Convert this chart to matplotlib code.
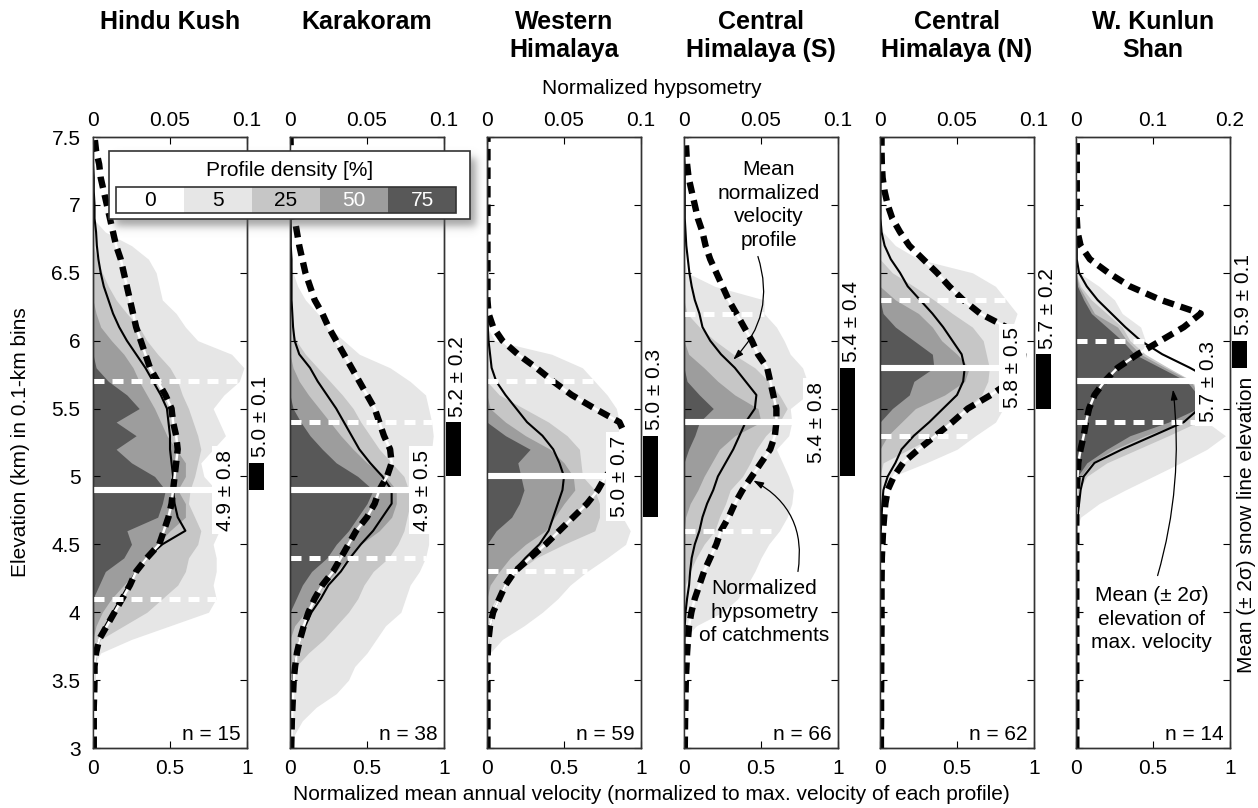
import numpy as np
import matplotlib
matplotlib.use("Agg")
import matplotlib.pyplot as plt
from matplotlib.patches import Rectangle

plt.rcParams['font.family'] = ['Liberation Sans', 'DejaVu Sans']

# elevation bins, 0.1 km, from 3.0 to 7.5 km
elev = np.round(np.arange(3.0, 7.55, 0.1), 1)

titles = ["Hindu Kush", "Karakoram", "Western\nHimalaya", "Central\nHimalaya (S)",
          "Central\nHimalaya (N)", "W. Kunlun\nShan"]
n_profiles = [15, 38, 59, 66, 62, 14]
hyps_max = [0.1, 0.1, 0.1, 0.1, 0.1, 0.2]
hyps_ticklabels = [["0", "0.05", "0.1"]] * 5 + [["0", "0.1", "0.2"]]
vel_ticklabels = ["0", "0.5", "1"]
elev_ticklabels = ["3", "3.5", "4", "4.5", "5", "5.5", "6", "6.5", "7", "7.5"]

# elevation of max. velocity: mean and 2 sigma (km)
vmax_mean = [4.9, 4.9, 5.0, 5.4, 5.8, 5.7]
vmax_2sd = [0.8, 0.5, 0.7, 0.8, 0.5, 0.3]
# snow line elevation: mean and 2 sigma (km)
snow_mean = [5.0, 5.2, 5.0, 5.4, 5.7, 5.9]
snow_2sd = [0.1, 0.2, 0.3, 0.4, 0.2, 0.1]

# --- Hindu Kush ---
hk_vel = [0, 0, 0, 0, .005, .01, .01, .02, .04, .08, .13, .18, .23, .28, .35,
          .45, .6, .55, .53, .52, .52, .51, .5, .5, .49, .48, .44, .39, .34, .28,
          .22, .17, .13, .1, .07, .05, .035, .025, .02, .01, .01, .005, .005, 0, 0, 0]
hk_hyps = [.0005, .0005, .0005, .0005, .0008, .001, .001, .002, .004, .009,
           .014, .019, .024, .028, .035, .043, .046, .049, .051, .052,
           .053, .054, .055, .054, .052, .051, .047, .042, .037, .034,
           .031, .028, .026, .024, .022, .02, .018, .015, .013, .011,
           .009, .007, .005, .004, .002, .001]
hk_p5 = [0, 0, 0, 0, 0, 0, 0, .05, .25, .5, .75, .8, .78, .8, .8,
         .78, .82, .8, .82, .8, .72, .7, .78, .86, .82, .78, .85, .95, .98, .9,
         .68, .6, .54, .45, .43, .41, .36, .25, .08, 0, 0, 0, 0, 0, 0, 0]
hk_p25 = [0, 0, 0, 0, 0, 0, 0, 0, .05, .2, .35, .45, .55, .6, .62,
          .68, .7, .66, .62, .63, .66, .68, .7, .68, .65, .62, .58, .55, .5, .42,
          .35, .3, .22, .15, .1, .06, .03, 0, 0, 0, 0, 0, 0, 0, 0, 0]
hk_p50 = [0, 0, 0, 0, 0, 0, 0, 0, 0, .02, .06, .12, .2, .28, .34,
          .42, .5, .6, .6, .55, .6, .6, .54, .48, .44, .4, .35, .3, .26, .2,
          .12, .05, .02, 0, 0, 0, 0, 0, 0, 0, 0, 0, 0, 0, 0, 0]
hk_p75 = [0, 0, 0, 0, 0, 0, 0, 0, 0, 0, 0, 0, .04, .08, .2,
          .25, .22, .42, .45, .47, .4, .25, .15, .28, .15, .3, .22, .1, .02, 0,
          0, 0, 0, 0, 0, 0, 0, 0, 0, 0, 0, 0, 0, 0, 0, 0]

# --- Karakoram ---
kk_vel = [0, .003, .005, .01, .015, .02, .03, .045, .065, .1, .14, .2, .25, .33, .39,
          .46, .54, .6, .66, .66, .6, .52, .45, .4, .35, .3, .24, .18, .13, .06,
          .03, .02, .015, .01, .01, .01, .01, .005, .005, .005, .005, .005, .005, .005, .005, .005]
kk_hyps = [.0008, .001, .0012, .0016, .002, .0024, .0033, .0045, .0065, .009,
           .012, .016, .021, .028, .033, .038, .043, .05, .055, .058,
           .063, .066, .065, .061, .058, .055, .05, .045, .04, .035,
           .03, .025, .021, .016, .013, .01, .008, .006, .0045, .003,
           .002, .0015, .001, .0008, .0005, .0003]
kk_p5 = [0, .03, .08, .17, .3, .38, .42, .5, .56, .62, .72, .75, .78, .84, .88,
         .9, .9, .92, .9, .91, .92, .91, .92, .93, .92, .9, .88, .78, .65, .45,
         .35, .25, .18, .1, .05, .02, 0, 0, 0, 0, 0, 0, 0, 0, 0, 0]
kk_p25 = [0, 0, 0, 0, 0, 0, .04, .12, .22, .3, .38, .44, .48, .54, .64,
          .7, .74, .76, .78, .77, .74, .66, .58, .52, .46, .41, .34, .26, .18, .1,
          .04, .01, 0, 0, 0, 0, 0, 0, 0, 0, 0, 0, 0, 0, 0, 0]
kk_p50 = [0, 0, 0, 0, 0, 0, 0, 0, 0, .03, .1, .16, .22, .3, .38,
          .46, .58, .66, .69, .69, .62, .5, .41, .33, .26, .19, .12, .06, .02, 0,
          0, 0, 0, 0, 0, 0, 0, 0, 0, 0, 0, 0, 0, 0, 0, 0]
kk_p75 = [0, 0, 0, 0, 0, 0, 0, 0, 0, 0, 0, .04, .08, .14, .24,
          .3, .38, .44, .5, .54, .44, .3, .21, .13, .07, .02, 0, 0, 0, 0,
          0, 0, 0, 0, 0, 0, 0, 0, 0, 0, 0, 0, 0, 0, 0, 0]

# --- Western Himalaya ---
wh_vel = [.002, .002, .002, .002, .002, .002, .002, .005, .01, .02, .04, .08, .12, .17, .25,
          .34, .4, .43, .46, .49, .5, .47, .43, .36, .26, .19, .12, .06, .03, .02,
          .01, .005, .005, .005, .005, .005, .005, .005, .005, .005, .005, .005, .005, .005, .005, .005]
wh_hyps = [.0003, .0003, .0003, .0003, .0003, .0003, .0003, .0005, .001, .002,
           .004, .008, .012, .018, .028, .038, .047, .056, .065, .072,
           .077, .085, .09, .09, .086, .07, .055, .043, .032, .02,
           .01, .004, .001, .0003, .0003, .0003, .0003, .0003, .0003, .0003,
           .0003, .0003, .0003, .0003, .0003, .0003]
wh_p5 = [0, 0, 0, 0, 0, 0, 0, .02, .1, .24, .36, .46, .54, .65, .78,
         .9, .93, .88, .84, .8, .77, .78, .8, .85, .86, .84, .78, .7, .62, .42,
         .05, 0, 0, 0, 0, 0, 0, 0, 0, 0, 0, 0, 0, 0, 0, 0]
wh_p25 = [0, 0, 0, 0, 0, 0, 0, 0, 0, 0, .01, .06, .12, .2, .32,
          .5, .7, .73, .73, .7, .62, .61, .6, .52, .4, .24, .08, 0, 0, 0,
          0, 0, 0, 0, 0, 0, 0, 0, 0, 0, 0, 0, 0, 0, 0, 0]
wh_p50 = [0, 0, 0, 0, 0, 0, 0, 0, 0, 0, 0, 0, .02, .08, .15,
          .25, .38, .44, .5, .57, .56, .5, .41, .25, .12, .02, 0, 0, 0, 0,
          0, 0, 0, 0, 0, 0, 0, 0, 0, 0, 0, 0, 0, 0, 0, 0]
wh_p75 = [0, 0, 0, 0, 0, 0, 0, 0, 0, 0, 0, 0, 0, 0, 0,
          0, .06, .16, .21, .24, .22, .2, .28, .12, 0, 0, 0, 0, 0, 0,
          0, 0, 0, 0, 0, 0, 0, 0, 0, 0, 0, 0, 0, 0, 0, 0]

# --- Central Himalaya (S) ---
chs_vel = [.003, .003, .003, .003, .003, .003, .003, .003, .003, .005, .01, .02, .033, .04, .05,
           .07, .1, .12, .15, .19, .22, .27, .32, .36, .4, .46, .47, .4, .33, .24,
           .17, .12, .1, .07, .05, .035, .025, .015, .01, .005, .005, .005, .005, .005, .005, .005]
chs_hyps = [.0005, .0006, .0007, .0009, .001, .0012, .0016, .002, .0026, .0033,
            .0048, .007, .01, .013, .017, .021, .024, .029, .033, .038,
            .044, .05, .056, .059, .06, .06, .058, .056, .054, .048,
            .044, .039, .034, .029, .025, .021, .017, .014, .012, .009,
            .007, .005, .003, .002, .0015, .001]
chs_p5 = [0, 0, 0, 0, 0, 0, 0, 0, 0, .08, .25, .35, .41, .46, .5,
          .55, .62, .67, .7, .71, .68, .64, .6, .68, .7, .69, .8, .8, .77, .69,
          .65, .6, .52, .52, .2, .02, 0, 0, 0, 0, 0, 0, 0, 0, 0, 0]
chs_p25 = [0, 0, 0, 0, 0, 0, 0, 0, 0, 0, 0, 0, .01, .04, .08,
           .13, .2, .23, .27, .3, .38, .43, .47, .53, .62, .67, .62, .55, .46, .32,
           .2, .1, .02, 0, 0, 0, 0, 0, 0, 0, 0, 0, 0, 0, 0, 0]
chs_p50 = [0, 0, 0, 0, 0, 0, 0, 0, 0, 0, 0, 0, 0, 0, 0,
           0, 0, .01, .04, .09, .13, .18, .23, .33, .5, .48, .33, .22, .13, .03,
           0, 0, 0, 0, 0, 0, 0, 0, 0, 0, 0, 0, 0, 0, 0, 0]
chs_p75 = [0, 0, 0, 0, 0, 0, 0, 0, 0, 0, 0, 0, 0, 0, 0,
           0, 0, 0, 0, 0, 0, 0, .03, .07, .1, .19, .1, .02, 0, 0,
           0, 0, 0, 0, 0, 0, 0, 0, 0, 0, 0, 0, 0, 0, 0, 0]

# --- Central Himalaya (N) ---
chn_vel = [.002, .002, .002, .002, .002, .002, .003, .003, .003, .004, .004, .004, .005, .005, .005,
           .005, .007, .01, .015, .022, .05, .1, .14, .22, .32, .41, .5, .54, .55, .53,
           .47, .41, .34, .26, .18, .13, .07, .03, .01, .003, .003, .003, .003, .003, .003, .003]
chn_hyps = [.0006, .0006, .0007, .0007, .0007, .0008, .0008, .0009, .0009, .001,
            .001, .001, .001, .0011, .0012, .0016, .002, .0027, .0035, .005,
            .009, .015, .025, .036, .047, .057, .072, .085, .092, .093,
            .09, .082, .065, .054, .045, .037, .028, .019, .013, .008,
            .005, .003, .0017, .0012, .001, .001]
chn_p5 = [0, 0, 0, 0, 0, 0, 0, 0, 0, 0, 0, 0, 0, 0, 0,
          0, 0, 0, 0, 0, .08, .3, .5, .62, .75, .8, .78, .78, .78, .8,
          .83, .86, .89, .82, .75, .6, .25, .1, .02, 0, 0, 0, 0, 0, 0, 0]
chn_p25 = [0, 0, 0, 0, 0, 0, 0, 0, 0, 0, 0, 0, 0, 0, 0,
           0, 0, 0, 0, 0, 0, .02, .19, .36, .46, .56, .66, .7, .71, .69,
           .67, .6, .47, .35, .22, .08, 0, 0, 0, 0, 0, 0, 0, 0, 0, 0]
chn_p50 = [0, 0, 0, 0, 0, 0, 0, 0, 0, 0, 0, 0, 0, 0, 0,
           0, 0, 0, 0, 0, 0, 0, 0, .05, .14, .23, .42, .55, .58, .5,
           .4, .34, .25, .1, 0, 0, 0, 0, 0, 0, 0, 0, 0, 0, 0, 0]
chn_p75 = [0, 0, 0, 0, 0, 0, 0, 0, 0, 0, 0, 0, 0, 0, 0,
           0, 0, 0, 0, 0, 0, 0, 0, 0, 0, .08, .19, .22, .35, .34,
           .22, .1, .02, 0, 0, 0, 0, 0, 0, 0, 0, 0, 0, 0, 0, 0]

# --- W. Kunlun Shan (hypsometry on a 0-0.2 scale) ---
wk_vel = [.005, .005, .005, .005, .005, .005, .005, .005, .005, .005, .005, .005, .005, .005, .005,
          .005, .005, .01, .02, .03, .05, .12, .3, .5, .7, .8, .88, .9, .74, .56,
          .42, .32, .23, .14, .07, .02, .005, .005, .005, .005, .005, .005, .005, .005, .005, .005]
wk_hyps = [.0004, .0004, .0004, .0004, .0004, .0004, .0004, .0004, .0004, .0004,
           .0004, .0004, .0004, .0004, .0004, .0004, .0004, .0004, .0004, .001,
           .002, .003, .006, .01, .013, .017, .024, .037, .054, .08,
           .11, .14, .162, .11, .07, .042, .018, .006, .002, .001,
           .001, .001, .001, .001, .001, .001]
wk_p5 = [0, 0, 0, 0, 0, 0, 0, 0, 0, 0, 0, 0, 0, 0, 0,
         0, 0, .03, .15, .32, .5, .68, .85, .97, .85, .79, .79, .75, .6, .43,
         .45, .42, .3, .25, .15, .02, 0, 0, 0, 0, 0, 0, 0, 0, 0, 0]
wk_p25 = [0, 0, 0, 0, 0, 0, 0, 0, 0, 0, 0, 0, 0, 0, 0,
          0, 0, 0, 0, .02, .07, .2, .4, .6, .79, .79, .79, .76, .6, .45,
          .35, .3, .2, .1, .03, 0, 0, 0, 0, 0, 0, 0, 0, 0, 0, 0]
wk_p50 = [0, 0, 0, 0, 0, 0, 0, 0, 0, 0, 0, 0, 0, 0, 0,
          0, 0, 0, 0, 0, .03, .1, .25, .45, .7, .79, .79, .75, .58, .42,
          .33, .27, .12, .07, .02, 0, 0, 0, 0, 0, 0, 0, 0, 0, 0, 0]
wk_p75 = [0, 0, 0, 0, 0, 0, 0, 0, 0, 0, 0, 0, 0, 0, 0,
          0, 0, 0, 0, 0, .01, .07, .2, .35, .6, .79, .79, .72, .55, .38,
          .3, .2, .1, .05, .01, 0, 0, 0, 0, 0, 0, 0, 0, 0, 0, 0]

vel_profiles = [hk_vel, kk_vel, wh_vel, chs_vel, chn_vel, wk_vel]
hypsometry = [hk_hyps, kk_hyps, wh_hyps, chs_hyps, chn_hyps, wk_hyps]
density = [[hk_p5, hk_p25, hk_p50, hk_p75], [kk_p5, kk_p25, kk_p50, kk_p75],
           [wh_p5, wh_p25, wh_p50, wh_p75], [chs_p5, chs_p25, chs_p50, chs_p75],
           [chn_p5, chn_p25, chn_p50, chn_p75], [wk_p5, wk_p25, wk_p50, wk_p75]]
density_levels = ["0", "5", "25", "50", "75"]

# layout in pixels
FIG_W, FIG_H = 1258, 808
panel_left = [93, 290, 487, 684, 880, 1076]
PANEL_W, PANEL_TOP, PANEL_BOT = 154, 137, 748
band_colors = ['#e6e6e6', '#c6c6c6', '#9d9d9d', '#585858']
FS = 15

fig = plt.figure(figsize=(FIG_W / 100, FIG_H / 100), dpi=100)

arrow_style = dict(arrowstyle='-|>,head_length=0.6,head_width=0.2', color='black',
                   lw=0.9, shrinkA=0, shrinkB=0)

for i in range(6):
    rect = [panel_left[i] / FIG_W, 1 - PANEL_BOT / FIG_H,
            PANEL_W / FIG_W, (PANEL_BOT - PANEL_TOP) / FIG_H]
    ax = fig.add_axes(rect)
    axt = ax.twiny()
    ax.set_xlim(0, 1)
    ax.set_ylim(3, 7.5)
    axt.set_xlim(0, hyps_max[i])

    # profile density bands
    for k, band in enumerate(density[i]):
        ax.fill_betweenx(elev, 0, band, color=band_colors[k], lw=0, zorder=1.1 + 0.1 * k)

    # mean normalized velocity profile
    ax.plot(vel_profiles[i], elev, color='black', lw=1.5, zorder=5)

    # normalized hypsometry (top axis scale)
    ax.plot(hypsometry[i], elev, color='white', lw=1.8, zorder=6,
            transform=axt.transData)
    ax.plot(hypsometry[i], elev, color='black', lw=4.6, zorder=7,
            dashes=(1.8, 1.1), dash_capstyle='butt', transform=axt.transData)

    # mean (+- 2 sigma) elevation of max. velocity
    m, s = vmax_mean[i], vmax_2sd[i]
    for e in (m - s, m + s):
        x_end = np.interp(e, elev, density[i][0])
        ax.plot([0, x_end], [e, e], color='white', lw=3.6, dashes=(2.2, 1.6),
                dash_capstyle='butt', zorder=8)
    ax.plot([0, 0.86], [m, m], color='white', lw=4.4, solid_capstyle='butt', zorder=8)
    ax.text(0.86, m, f"{m:.1f} ± {s:.1f}", rotation=90, ha='center', va='center',
            fontsize=FS, zorder=9,
            bbox=dict(boxstyle='square,pad=0.18', fc='white', ec='none'))

    # snow line elevation bar and label
    sm, ss = snow_mean[i], snow_2sd[i]
    ax.add_patch(Rectangle((1.01, sm - ss), 0.1, 2 * ss, fc='black', ec='none',
                           clip_on=False, zorder=9))
    ax.text(1.09, sm + ss + 0.04, f"{sm:.1f} ± {ss:.1f}", rotation=90,
            ha='center', va='bottom', fontsize=FS)

    ax.text(0.96, 3.03, f"n = {n_profiles[i]}", ha='right', va='bottom',
            fontsize=FS, zorder=9)

    # axes styling
    ax.set_xticks([0, 0.5, 1])
    ax.set_xticklabels(vel_ticklabels)
    ax.set_yticks(np.arange(3, 7.6, 0.5))
    ax.set_yticklabels(elev_ticklabels)
    ax.tick_params(axis='both', direction='in', length=5, width=0.8,
                   labelsize=FS, right=True, top=False)
    ax.tick_params(axis='x', pad=8)
    ax.tick_params(axis='y', pad=9, labelleft=(i == 0))
    axt.set_xticks([0, hyps_max[i] / 2, hyps_max[i]])
    axt.set_xticklabels(hyps_ticklabels[i])
    axt.tick_params(axis='x', direction='in', length=5, width=0.8,
                    labelsize=FS, pad=5)
    for a in (ax, axt):
        for sp in a.spines.values():
            sp.set_color('#333333')
            sp.set_linewidth(1.0)

    fig.text((panel_left[i] + PANEL_W / 2) / FIG_W, 1 - 10 / FIG_H, titles[i],
             ha='center', va='top', fontsize=18, fontweight='bold', linespacing=1.2)

    if i == 3:
        ax.text(0.55, 7.0, "Mean\nnormalized\nvelocity\nprofile", ha='center',
                va='center', fontsize=FS, linespacing=1.3, zorder=9)
        ax.annotate('', xy=(0.32, 5.86), xytext=(0.48, 6.62),
                    arrowprops=dict(connectionstyle='arc3,rad=-0.3', **arrow_style),
                    zorder=9)
        ax.text(0.52, 4.0, "Normalized\nhypsometry\nof catchments", ha='center',
                va='center', fontsize=FS, linespacing=1.3, zorder=9)
        ax.annotate('', xy=(0.45, 4.97), xytext=(0.74, 4.3),
                    arrowprops=dict(connectionstyle='arc3,rad=0.35', **arrow_style),
                    zorder=9)
    if i == 5:
        ax.text(0.49, 3.95, "Mean (± 2σ)\nelevation of\nmax. velocity", ha='center',
                va='center', fontsize=FS, linespacing=1.3, zorder=9)
        ax.annotate('', xy=(0.63, 5.64), xytext=(0.53, 4.27),
                    arrowprops=dict(connectionstyle='arc3,rad=0.1', **arrow_style),
                    zorder=9)

# shared axis labels
fig.text(0.518, 1 - 88 / FIG_H, "Normalized hypsometry", ha='center', va='center', fontsize=FS)
fig.text(0.518, 1 - 795 / FIG_H,
         "Normalized mean annual velocity (normalized to max. velocity of each profile)",
         ha='center', va='center', fontsize=FS)
fig.text(21 / FIG_W, 1 - 442 / FIG_H, "Elevation (km) in 0.1-km bins", rotation=90,
         ha='center', va='center', fontsize=FS)
fig.text(1246 / FIG_W, 1 - 525 / FIG_H, "Mean (± 2σ) snow line elevation", rotation=90,
         ha='center', va='center', fontsize=FS)

# density legend with a soft drop shadow, drawn in pixel coordinates
ov = fig.add_axes([0, 0, 1, 1], zorder=20)
ov.axis('off')

bx0, by0, bx1, by1 = 109, 151, 470, 219
gx = np.arange(95, 500) + 0.5
gy = np.arange(140, 245) + 0.5
X, Y = np.meshgrid(gx, gy)
sig = lambda t: 1 / (1 + np.exp(-t / 2.5))
shade = sig(X - (bx0 + 6)) * sig((bx1 + 6) - X) * sig(Y - (by0 + 7)) * sig((by1 + 7) - Y)
rgba = np.zeros(shade.shape + (4,))
rgba[..., :3] = 0.35
rgba[..., 3] = 0.55 * shade
ov.imshow(rgba, extent=[95, 500, 245, 140], interpolation='bilinear', zorder=1)
ov.set_xlim(0, FIG_W)
ov.set_ylim(FIG_H, 0)

ov.add_patch(Rectangle((bx0, by0), bx1 - bx0, by1 - by0, fc='white', ec='#333333',
                       lw=1.2, zorder=2))
ov.text((bx0 + bx1) / 2, 170, "Profile density [%]", ha='center', va='center',
        fontsize=FS, zorder=3)
cell_colors = ['white'] + band_colors
cx0, cy0, cw, ch = 116, 187, 68, 26
for k, lab in enumerate(density_levels):
    ov.add_patch(Rectangle((cx0 + k * cw, cy0), cw, ch, fc=cell_colors[k], ec='none', zorder=3))
    ov.text(cx0 + (k + 0.5) * cw, cy0 + ch / 2 + 1, lab, ha='center', va='center',
            fontsize=FS, color='white' if k >= 3 else 'black', zorder=4)
ov.add_patch(Rectangle((cx0, cy0), cw * 5, ch, fc='none', ec='#333333', lw=1.2, zorder=4))

fig.savefig("out.png", dpi=100)
